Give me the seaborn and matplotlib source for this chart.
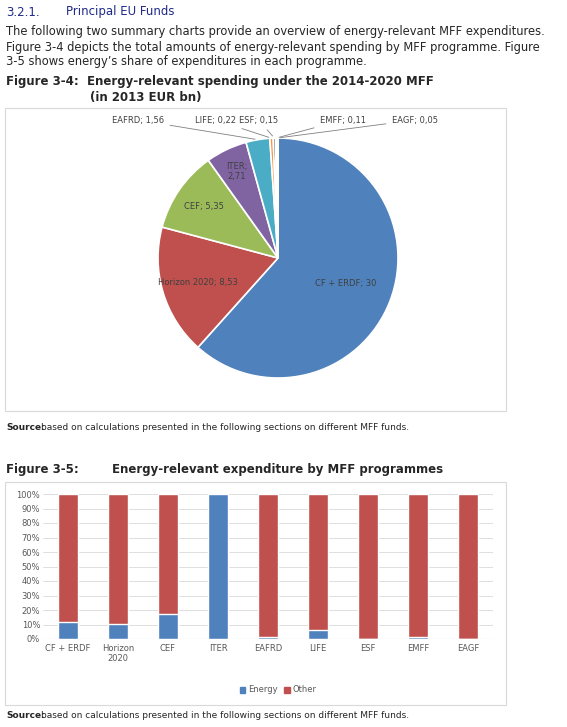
import matplotlib
matplotlib.use("Agg")
import matplotlib.pyplot as plt
import seaborn as sns
import numpy as np
import pandas as pd
from matplotlib.patches import Rectangle

sns.set_theme(style="white")
plt.rcParams['font.family'] = ['DejaVu Sans']

pie_labels = ["CF + ERDF", "Horizon 2020", "CEF", "ITER", "EAFRD", "LIFE", "ESF", "EMFF", "EAGF"]
pie_values = [30, 8.53, 5.35, 2.71, 1.56, 0.22, 0.15, 0.11, 0.05]
pie_colors = ["#4f81bd", "#c0504d", "#9bbb59", "#8064a2", "#4bacc6", "#f79646", "#2c4d75", "#772c2a", "#5f7530"]

bar_cats = ["CF + ERDF", "Horizon\n2020", "CEF", "ITER", "EAFRD", "LIFE", "ESF", "EMFF", "EAGF"]
energy_share = [11.5, 10.5, 17.5, 100, 1.5, 6, 0.3, 1.5, 0.2]

W, H = 567, 727
fig = plt.figure(figsize=(W/100, H/100), dpi=100)

def ft(x, y, s, **kw):
    fig.text(x/W, 1 - y/H, s, va="center", **kw)

ft(6, 12, "3.2.1.", fontsize=8.5, color="#1f2a8a")
ft(66, 12, "Principal EU Funds", fontsize=8.5, color="#1f2a8a")
ft(6, 31, "The following two summary charts provide an overview of energy-relevant MFF expenditures.", fontsize=8.3)
ft(6, 47, "Figure 3-4 depicts the total amounts of energy-relevant spending by MFF programme. Figure", fontsize=8.3)
ft(6, 62, "3-5 shows energy\u2019s share of expenditures in each programme.", fontsize=8.3)
ft(6, 82, "Figure 3-4:  Energy-relevant spending under the 2014-2020 MFF", fontsize=8.5, fontweight="bold")
ft(90, 98, "(in 2013 EUR bn)", fontsize=8.5, fontweight="bold")
ft(6, 427, "Source:", fontsize=6.5, fontweight="bold")
ft(41, 427, "based on calculations presented in the following sections on different MFF funds.", fontsize=6.5)
ft(6, 469, "Figure 3-5:", fontsize=8.5, fontweight="bold")
ft(112, 469, "Energy-relevant expenditure by MFF programmes", fontsize=8.5, fontweight="bold")
ft(6, 716, "Source:", fontsize=6.5, fontweight="bold")
ft(41, 716, "based on calculations presented in the following sections on different MFF funds.", fontsize=6.5)

for (x0, y0, x1, y1) in [(5, 108, 506, 411), (5, 482, 506, 705)]:
    fig.add_artist(Rectangle((x0/W, 1-y1/H), (x1-x0)/W, (y1-y0)/H, transform=fig.transFigure,
                             fill=False, edgecolor="#d9d9d9", lw=0.8))

# Pie
cx, cy, r = 278, 258, 120
axp = fig.add_axes([(cx-r)/W, 1-(cy+r)/H, 2*r/W, 2*r/H])
wedges, _ = axp.pie(pie_values, colors=pie_colors, startangle=90, counterclock=False,
                    wedgeprops=dict(edgecolor="white", linewidth=1.2))
axp.set_aspect("equal")
axp.set_xlim(-1, 1); axp.set_ylim(-1, 1)
inside = {"CF + ERDF": 0.6, "Horizon 2020": 0.7, "CEF": 0.75, "ITER": 0.8}
outside_pos = {"EAFRD": (-0.95, 1.15), "LIFE": (-0.35, 1.15), "ESF": (0.0, 1.15),
               "EMFF": (0.35, 1.15), "EAGF": (0.95, 1.15)}
for w, lab, v in zip(wedges, pie_labels, pie_values):
    ang = np.deg2rad((w.theta1 + w.theta2) / 2)
    txt = f"{lab}; {str(v).replace('.', ',')}" if v != int(v) else f"{lab}; {int(v)}"
    if lab in inside:
        d = inside[lab]
        s = txt.replace("; ", ";\n") if lab == "ITER" else txt
        axp.text(d*np.cos(ang), d*np.sin(ang), s, ha="center", va="center", fontsize=6, color="#404040")
    else:
        tx, ty = outside_pos[lab]
        ha = "right" if tx < 0.05 else "left"
        axp.annotate(txt, xy=(np.cos(ang), np.sin(ang)), xytext=(tx, ty), ha=ha, va="center",
                     fontsize=6, color="#404040", annotation_clip=False,
                     arrowprops=dict(arrowstyle="-", color="#808080", lw=0.6))

# Bars
axb = fig.add_axes([43/W, 1-639/H, (493-43)/W, (639-494)/H])
df = pd.DataFrame({"cat": bar_cats, "Energy": energy_share})
df["Other"] = 100 - df["Energy"]
sns.barplot(data=df, x="cat", y=[100]*len(df), color="#c0504d", width=0.4, ax=axb, saturation=1)
sns.barplot(data=df, x="cat", y="Energy", color="#4f81bd", width=0.4, ax=axb, saturation=1)
axb.set_ylim(0, 100)
axb.set_yticks(range(0, 101, 10))
axb.set_yticklabels([f"{t}%" for t in range(0, 101, 10)], fontsize=6, color="#595959")
axb.tick_params(axis="x", labelsize=6, colors="#595959", length=0)
axb.tick_params(axis="y", length=0, pad=2)
axb.set_xlabel(""); axb.set_ylabel("")
axb.yaxis.grid(True, color="#d9d9d9", lw=0.6)
axb.set_axisbelow(True)
for s in axb.spines.values():
    s.set_visible(False)
axb.axhline(0, color="#d9d9d9", lw=0.8)
h = [Rectangle((0, 0), 1, 1, color="#4f81bd"), Rectangle((0, 0), 1, 1, color="#c0504d")]
fig.legend(h, ["Energy", "Other"], loc="center", bbox_to_anchor=(278/W, 1-690/H), ncol=2,
           frameon=False, fontsize=6, handlelength=0.7, handleheight=0.7, columnspacing=0.8,
           handletextpad=0.3, labelcolor="#595959")

fig.savefig("out.png", dpi=100)
